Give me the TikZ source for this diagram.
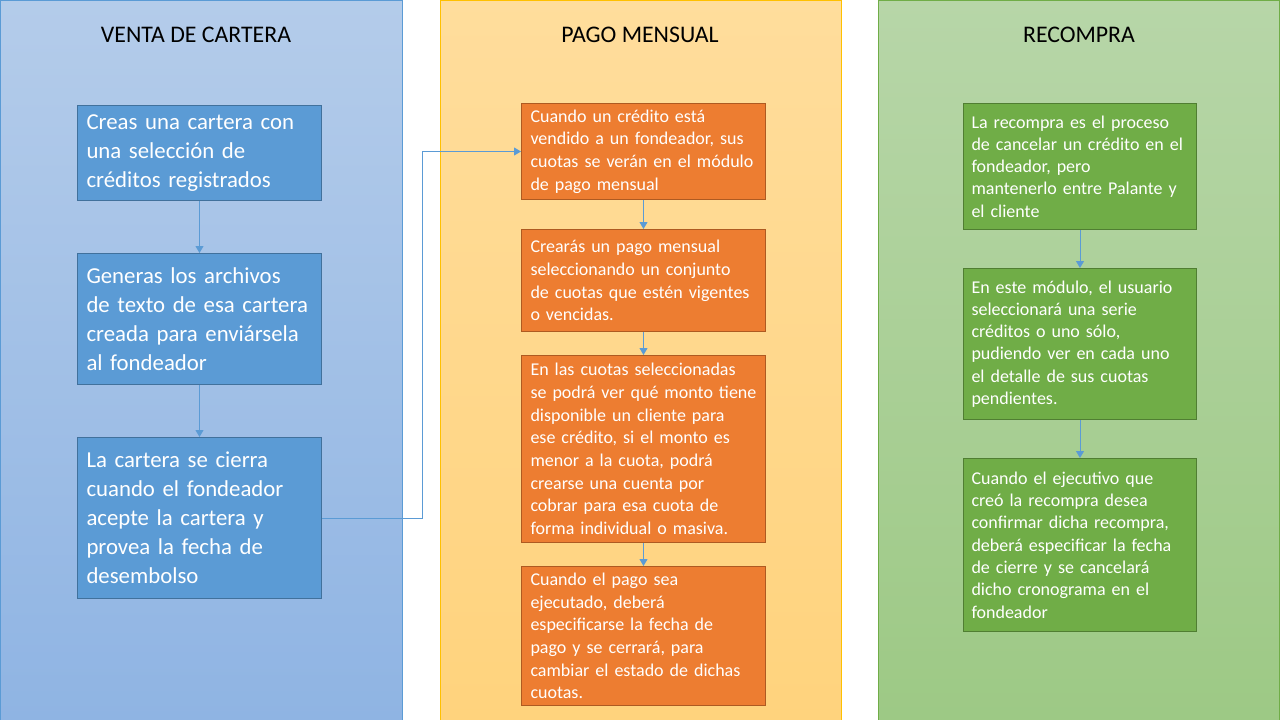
\documentclass[tikz,border=0pt]{standalone}
\usepackage{fontspec}
\setmainfont{Carlito}
\usepackage{xcolor}
\definecolor{bluefill}{RGB}{91, 155, 213}
\definecolor{blueedge}{RGB}{65, 113, 156}
\definecolor{orangefill}{RGB}{237, 125, 49}
\definecolor{orangeedge}{RGB}{174, 90, 33}
\definecolor{greenfill}{RGB}{112, 173, 71}
\definecolor{greenedge}{RGB}{80, 126, 50}
\definecolor{bluetop}{RGB}{180, 204, 234}
\definecolor{bluebot}{RGB}{143, 180, 227}
\definecolor{orangetop}{RGB}{255, 221, 156}
\definecolor{orangebot}{RGB}{255, 211, 125}
\definecolor{greentop}{RGB}{183, 214, 168}
\definecolor{greenbot}{RGB}{157, 201, 133}
\definecolor{gold}{RGB}{255, 192, 0}
\usepackage{tikz}
\usetikzlibrary{arrows.meta, positioning}
\tikzset{
  lanetitle/.style={text=black, font=\fontsize{23.8}{28}\selectfont},
  bluebox/.style={draw=blueedge, fill=bluefill, text=white,
    text width=226pt, inner xsep=9pt, inner ysep=0pt, align=left,
    line width=1pt, font=\fontsize{22.8}{29}\selectfont},
  orangebox/.style={draw=orangeedge, fill=orangefill, text=white,
    text width=226pt, inner xsep=9pt, inner ysep=0pt, align=left,
    line width=1pt, font=\fontsize{18}{22.7}\selectfont},
  greenbox/.style={draw=greenedge, fill=greenfill, text=white,
    text width=217pt, inner xsep=8pt, inner ysep=0pt, align=left,
    line width=1pt, font=\fontsize{18}{22.3}\selectfont},
  flowarrow/.style={-{Triangle[width=8pt,length=7pt]}, line width=1pt, color=bluefill}
}

\begin{document}
\begin{tikzpicture}[x=1pt, y=-1pt]
  \useasboundingbox (0,0) rectangle (1280,720);

  % Lanes
  \path[top color=bluetop, bottom color=bluebot] (0,0) rectangle (402,720);
  \draw[bluefill, line width=1pt] (0.5,720) -- (0.5,0.5) -- (402,0.5) -- (402,720);
  \path[top color=orangetop, bottom color=orangebot] (440,0) rectangle (841,720);
  \draw[gold, line width=1pt] (440,720) -- (440,0.5) -- (841,0.5) -- (841,720);
  \path[top color=greentop, bottom color=greenbot] (878,0) rectangle (1280,720);
  \draw[greenfill, line width=1pt] (878,720) -- (878,0.5) -- (1279.5,0.5) -- (1279.5,720);

  \node[lanetitle] (ventatitle) at (196,35) {VENTA DE CARTERA};
  \node[lanetitle] (pagotitle) at (640,35) {PAGO MENSUAL};
  \node[lanetitle] (recompratitle) at (1079,35) {RECOMPRA};

  % Venta de cartera
  \node[bluebox, minimum height=95pt, anchor=north west] (crear) at (77,105)
    {Creas una cartera con\\una selección de\\créditos registrados};
  \node[bluebox, minimum height=131pt, below=52pt of crear] (generar)
    {Generas los archivos\\de texto de esa cartera\\creada para enviársela\\al fondeador};
  \node[bluebox, minimum height=161pt, below=52pt of generar] (cerrar)
    {La cartera se cierra\\cuando el fondeador\\acepte la cartera y\\provea la fecha de\\desembolso};

  % Pago mensual
  \node[orangebox, minimum height=96pt, anchor=north west] (vendido) at (521,103)
    {Cuando un crédito está\\vendido a un fondeador, sus\\cuotas se verán en el módulo\\de pago mensual};
  \node[orangebox, minimum height=102pt, below=29pt of vendido] (crearpago)
    {Crearás un pago mensual\\seleccionando un conjunto\\de cuotas que estén vigentes\\o vencidas.};
  \node[orangebox, minimum height=187pt, below=23pt of crearpago] (cuotas)
    {En las cuotas seleccionadas\\se podrá ver qué monto tiene\\disponible un cliente para\\ese crédito, si el monto es\\menor a la cuota, podrá\\crearse una cuenta por\\cobrar para esa cuota de\\forma individual o masiva.};
  \node[orangebox, minimum height=139pt, below=23pt of cuotas] (ejecutar)
    {Cuando el pago sea\\ejecutado, deberá\\especificarse la fecha de\\pago y se cerrará, para\\cambiar el estado de dichas\\cuotas.};

  % Recompra
  \node[greenbox, minimum height=126pt, anchor=north west] (proceso) at (963,103)
    {La recompra es el proceso\\de cancelar un crédito en el\\fondeador, pero\\mantenerlo entre Palante y\\el cliente};
  \node[greenbox, minimum height=151pt, below=38pt of proceso] (modulo)
    {En este módulo, el usuario\\seleccionará una serie\\créditos o uno sólo,\\pudiendo ver en cada uno\\el detalle de sus cuotas\\pendientes.};
  \node[greenbox, minimum height=173pt, below=38pt of modulo] (confirmar)
    {Cuando el ejecutivo que\\creó la recompra desea\\confirmar dicha recompra,\\deberá especificar la fecha\\de cierre y se cancelará\\dicho cronograma en el\\fondeador};

  % Connectors
  \draw[flowarrow] (crear) -- (generar);
  \draw[flowarrow] (generar) -- (cerrar);
  \draw[flowarrow] (cerrar.east) -- ++(100,0) |- (vendido.west);
  \draw[flowarrow] (vendido) -- (crearpago);
  \draw[flowarrow] (crearpago) -- (cuotas);
  \draw[flowarrow] (cuotas) -- (ejecutar);
  \draw[flowarrow] (proceso) -- (modulo);
  \draw[flowarrow] (modulo) -- (confirmar);

\end{tikzpicture}
\end{document}
